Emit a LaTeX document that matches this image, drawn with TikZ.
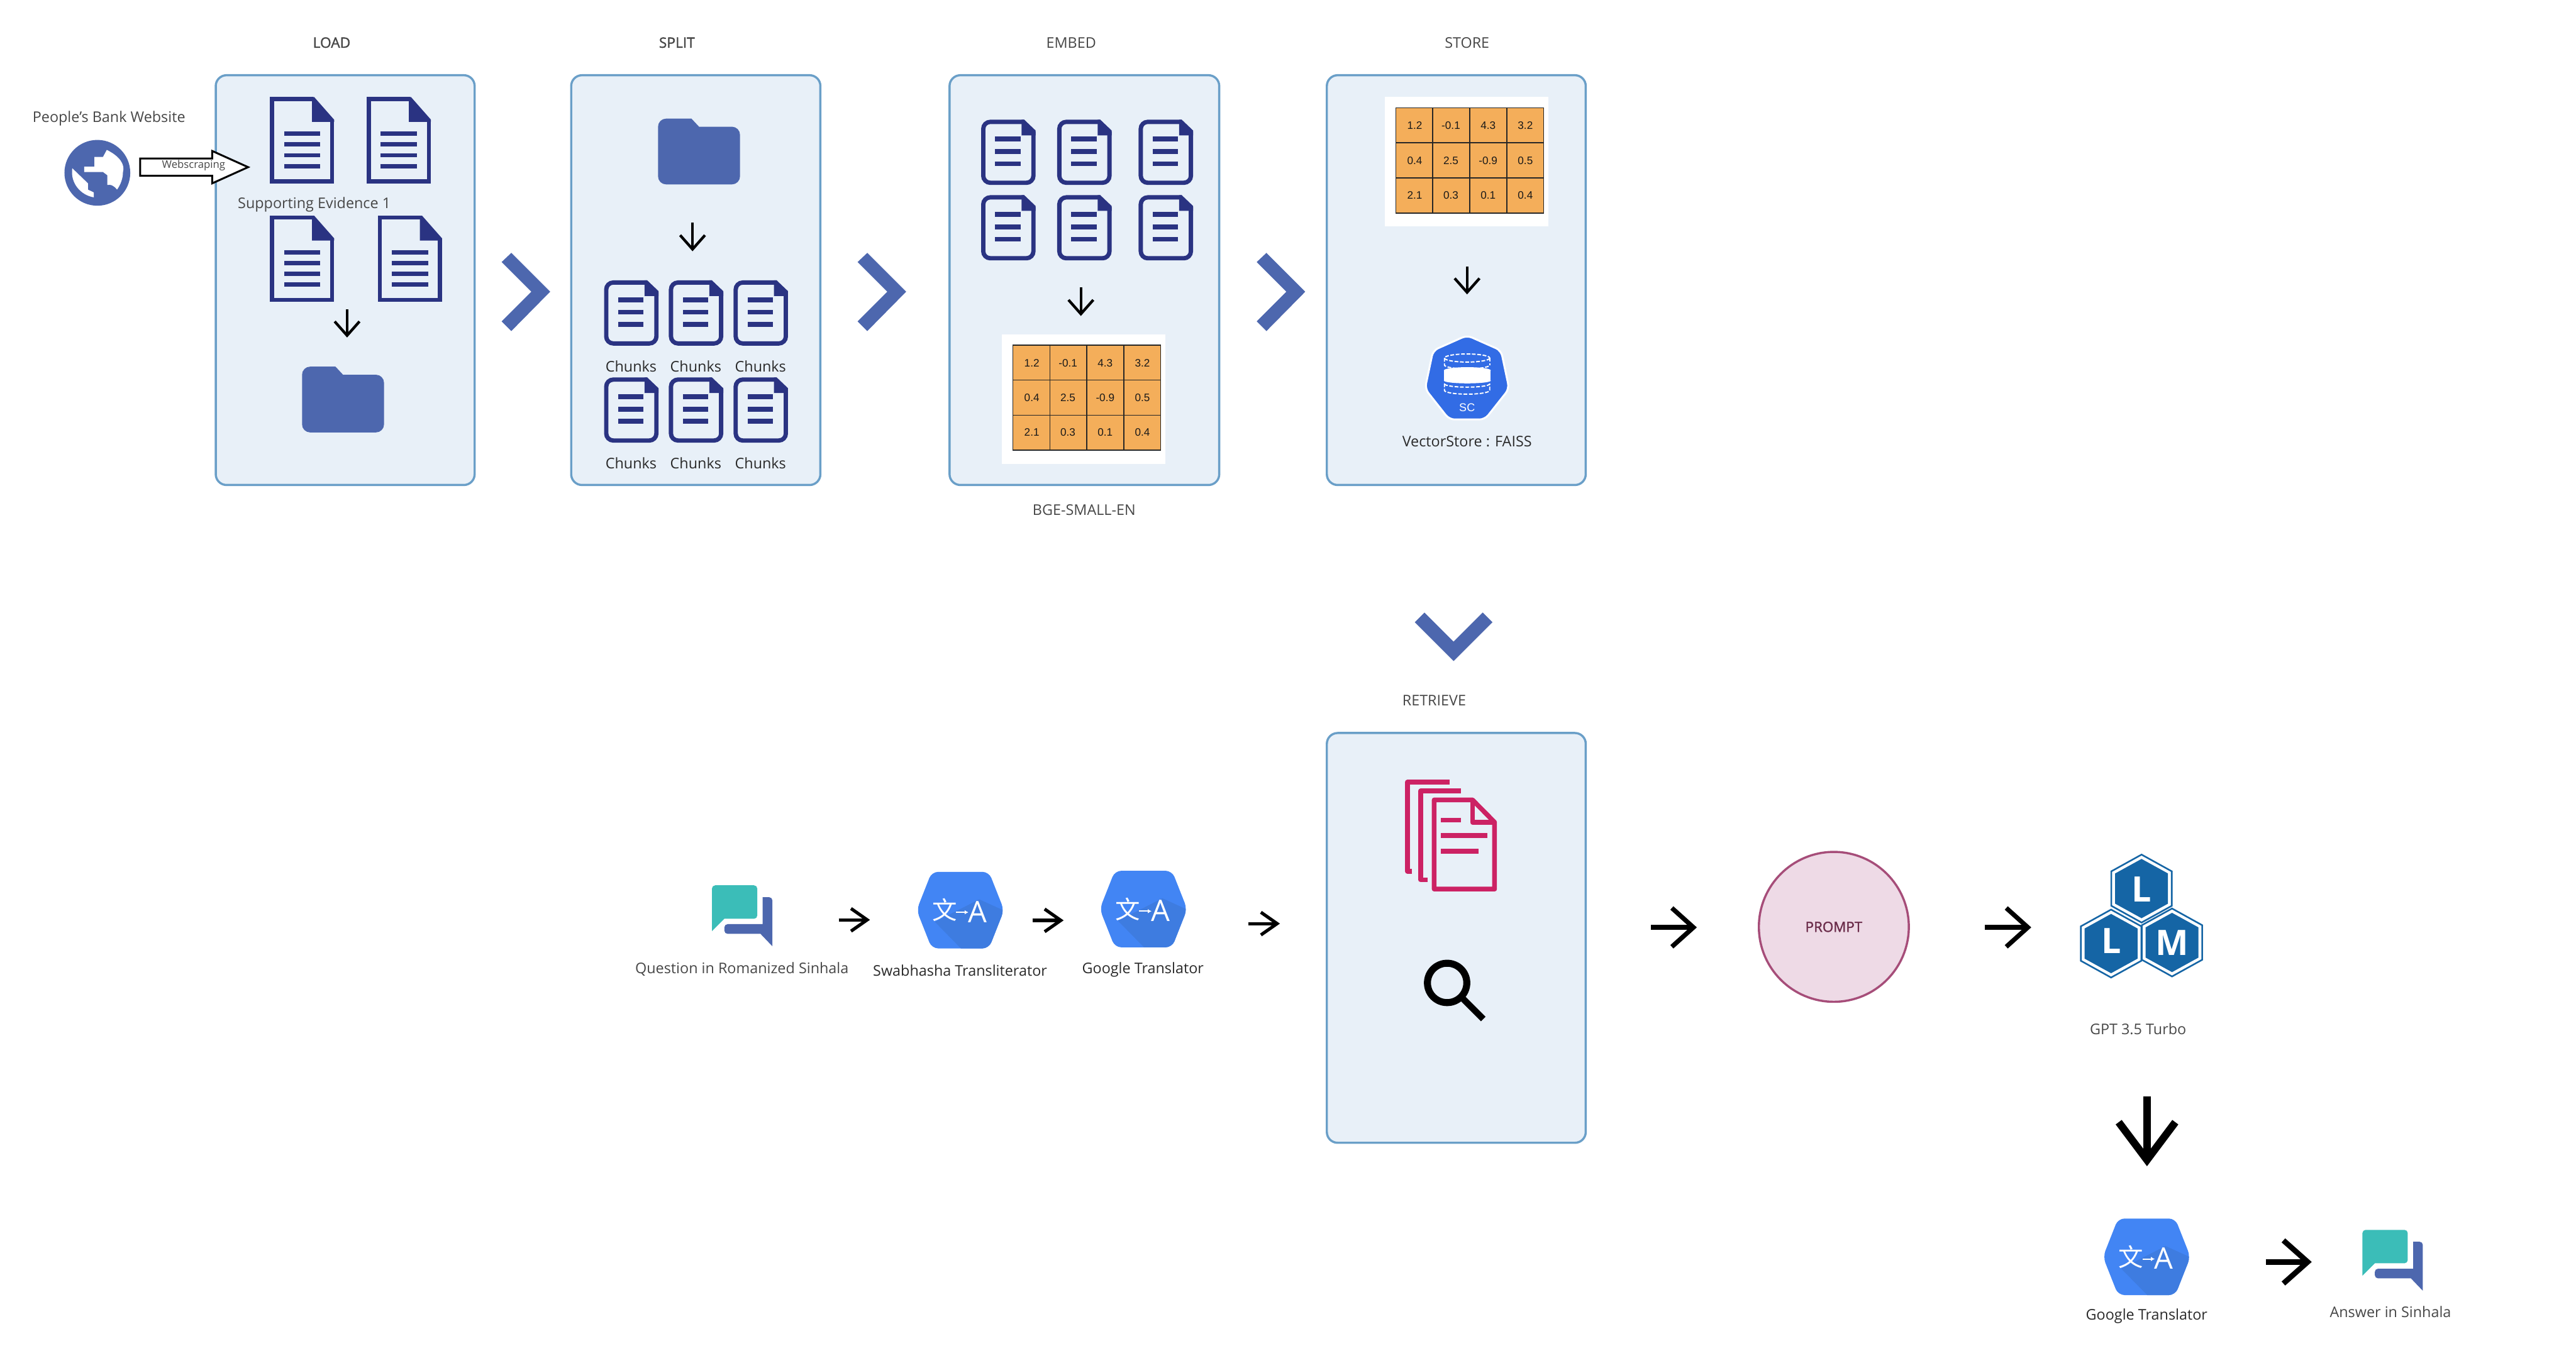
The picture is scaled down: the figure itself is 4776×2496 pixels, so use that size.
\documentclass[tikz,border=0pt]{standalone}
\usepackage{fontspec}
\setmainfont{Open Sans}
\newfontfamily\fauxbold[FakeBold=1.5]{Open Sans}
\newfontfamily\arialfont{Liberation Sans}
\newfontfamily\cjkfont{Noto Sans CJK SC}
\usetikzlibrary{arrows.meta}
\definecolor{panelfill}{HTML}{E8F0F8}
\definecolor{paneldraw}{HTML}{6A9FC8}
\definecolor{iconblue}{HTML}{4D67AE}
\definecolor{docblue}{HTML}{2A3382}
\definecolor{labelgrey}{HTML}{474747}
\definecolor{labeldark}{HTML}{2A2A2A}
\definecolor{cellorange}{HTML}{F4AE5A}
\definecolor{chatteal}{HTML}{3BBDB8}
\definecolor{transblue}{HTML}{4285F4}
\definecolor{transshade}{HTML}{3E7CE0}
\definecolor{scblue}{HTML}{326CE5}
\definecolor{llmblue}{HTML}{1565A5}
\definecolor{pinkdoc}{HTML}{CC2264}
\definecolor{promptfill}{HTML}{EEDAE6}
\definecolor{promptdraw}{HTML}{A64D79}
\definecolor{prompttext}{HTML}{6B2C4A}
\tikzset{
  panel/.style={draw=paneldraw,fill=panelfill,line width=0.8pt,rounded corners=4pt,outer sep=0pt,inner sep=0pt},
  lab/.style={font=\fontsize{5.45pt}{6pt}\selectfont,text=labelgrey,inner sep=0pt},
  labdark/.style={font=\fontsize{5.45pt}{6pt}\selectfont,text=labeldark,inner sep=0pt},
  labbold/.style={font=\fontsize{5.3pt}{6pt}\selectfont\fauxbold,text=labelgrey,inner sep=0pt},
  flowS/.style={draw=black,line width=1pt,-{Straight Barb[length=5.2pt,width=9.2pt,line width=1pt]}},
  flowM/.style={draw=black,line width=1.2pt,-{Straight Barb[length=6pt,width=8.4pt,line width=1.2pt]}},
  flowL/.style={draw=black,line width=1.7pt,-{Straight Barb[length=8pt,width=14.4pt,line width=1.7pt]}},
  flowX/.style={draw=black,line width=2pt,-{Straight Barb[length=9pt,width=16pt,line width=2pt]}},
  flowH/.style={draw=black,line width=2.8pt,-{Straight Barb[length=14pt,width=21pt,line width=2.8pt]}},
  chevron/.style={fill=iconblue,draw=none},
  docA/.pic={
    \draw[docblue,line width=1.5pt,miter limit=10] (80,3.75) -- (3.75,3.75) -- (3.75,156.25) -- (115.25,156.25) -- (115.25,44);
    \fill[docblue] (78,0) -- (82,0) -- (119,42) -- (119,46) -- (78,46) -- cycle;
    \foreach \yy in {68,88,108,128}{\fill[docblue] (26,\yy-4) rectangle (93,\yy+4);}
  },
  docB/.pic={
    \draw[docblue,line width=1.6pt,rounded corners=2.6pt] (80,4) -- (4,4) -- (4,117) -- (97,117) -- (97,22);
    \fill[docblue] (75,0) -- (80,0) -- (101,20) -- (101,29) -- (75,29) -- cycle;
    \foreach \yy in {36,59,81.6}{\fill[docblue] (26,\yy-4.5) rectangle (73,\yy+4.5);}
  },
  folderpic/.pic={
    \fill[iconblue] (0,60) [rounded corners=3pt] -- (0,0) [sharp corners] -- (62,0) -- (76,15) [rounded corners=3pt] -- (152,15) -- (152,122) -- (0,122) -- cycle;
  },
  chatpic/.pic={
    \fill[iconblue] (94,22) [rounded corners=1.2pt] -- (112,22) [sharp corners] -- (112,113) -- (90,90) [rounded corners=1.2pt] -- (23,90) -- (23,72) [sharp corners] -- (94,72) -- cycle;
    \fill[chatteal] (0,85) [rounded corners=1.2pt] -- (0,0) -- (84,0) -- (84,62) [sharp corners] -- (23,62) -- cycle;
  },
  transpic/.pic={
    \begin{scope}
      \clip[rounded corners=2.4pt] (-81,0) -- (-53,-71) -- (53,-71) -- (81,0) -- (53,71) -- (-53,71) -- cycle;
      \fill[transblue] (-90,-80) rectangle (90,80);
      \fill[transshade] (-47,22) -- (5,75) -- (90,75) -- (90,5) -- (35,-20) -- cycle;
    \end{scope}
    \node[inner sep=0pt,text=white,font=\fontsize{9.2pt}{10pt}\selectfont\cjkfont] at (-29,0) {文};
    \draw[white,line width=0.5pt,-{Latex[length=1.4pt,width=1.6pt]}] (-8,4) -- (15,4);
    \node[inner sep=0pt,text=white,font=\fontsize{11pt}{12pt}\selectfont] at (32,3) {A};
  },
  hexpic/.pic={
    \draw[llmblue,line width=0.6pt,fill=white] (0,-63) -- (56,-32) -- (56,32) -- (0,63) -- (-56,32) -- (-56,-32) -- cycle;
    \fill[llmblue] (0,-55) -- (49,-28) -- (49,28) -- (0,55) -- (-49,28) -- (-49,-28) -- cycle;
  },
  tablepic/.pic={
    \fill[cellorange] (0,0) rectangle (274,195);
    \draw[black!85,line width=0.4pt] (0,0) rectangle (274,195);
    \foreach \xx in {68.5,137,205.5}{\draw[black!85,line width=0.4pt] (\xx,0) -- (\xx,195);}
    \foreach \yy in {65,130}{\draw[black!85,line width=0.4pt] (0,\yy) -- (274,\yy);}
    \foreach \xx/\yy/\tt in {35/33/1.2,102/33/-0.1,171/33/4.3,240/33/3.2,35/98/0.4,102/98/2.5,171/98/-0.9,240/98/0.5,35/162/2.1,102/162/0.3,171/162/0.1,240/162/0.4}{
      \node[inner sep=0pt,font=\fontsize{4pt}{4.5pt}\selectfont\arialfont,text=black!90] at (\xx,\yy) {\tt};
    }
  },
}
\begin{document}
\begin{tikzpicture}[x=0.2pt,y=-0.2pt]
\useasboundingbox (0,0) rectangle (4776,2496);
\fill[white] (0,0) rectangle (4776,2496);

% panels
\node[panel,minimum width=96pt,minimum height=152pt] (load) at (640,519.5) {};
\node[panel,minimum width=92.4pt,minimum height=152pt] (split) at (1290,519.5) {};
\node[panel,minimum width=100pt,minimum height=152pt] (embed) at (2010.5,519.5) {};
\node[panel,minimum width=96pt,minimum height=152pt] (store) at (2700,519.5) {};
\node[panel,minimum width=96pt,minimum height=152pt] (retrieve) at (2700,1739.5) {};

% stage titles
\node[labbold] (tload) at (615,79) {LOAD};
\node[labbold] (tsplit) at (1255,79) {SPLIT};
\node[lab] (tembed) at (1986,79) {EMBED};
\node[lab] (tstore) at (2720,79) {STORE};
\node[lab] (tbge) at (2010,946) {BGE-SMALL-EN};
\node[lab] (tretrieve) at (2659,1299) {RETRIEVE};

% website globe
\node[lab] (tweb) at (202,220) {People’s Bank Website};
\fill[iconblue] (180.5,320.5) circle [radius=61];
\fill[white] (198,278) .. controls (222,290) and (232,305) .. (228,319) .. controls (228,330) and (224,342) .. (217,351.6) .. controls (210,343) and (205,342) .. (199,343) -- (199,325) -- (191,319) -- (156,319) -- (156,309) -- (175,309) -- (175,291) -- (191,291) -- cycle;
\fill[white] (134,312) -- (163,340) -- (163,351.6) -- (174,357) -- (174,366) .. controls (150,362) and (130,340) .. cycle;

% load docs
\pic at (500.5,180) {docA};
\pic at (680,180) {docA};
\pic at (500.5,400) {docA};
\pic at (700.5,400) {docA};
\node[lab,anchor=west] (tevid) at (440,380) {Supporting Evidence 1};
\pic at (560,680) {folderpic};
\coordinate (la) at (643.5,574);
\coordinate (lb) at (643.5,626);
\draw[flowS] (la) -- (lb);

% webscraping arrow
\draw[black,fill=white,line width=0.7pt,miter limit=10] (260,294) -- (393.5,294) -- (393.5,280) -- (460,310) -- (393.5,340) -- (393.5,326) -- (260,326) -- cycle;
\node[inner sep=0pt,text=labelgrey,font=\fontsize{3.9pt}{5pt}\selectfont] (tscrape) at (359,307) {Webscraping};

% chevrons
\fill[chevron] (930,486) -- (948,469) -- (1020,541) -- (948,614) -- (930,596) -- (985,541) -- cycle;
\fill[chevron] (1590,486) -- (1608,469) -- (1680,541) -- (1608,614) -- (1590,596) -- (1645,541) -- cycle;
\fill[chevron] (2330,486) -- (2348,469) -- (2420,541) -- (2348,614) -- (2330,596) -- (2385,541) -- cycle;
\fill[chevron] (2623,1154) -- (2641,1136) -- (2695,1190) -- (2749,1136) -- (2767,1154) -- (2695,1226) -- cycle;

% split
\pic at (1220,220) {folderpic};
\coordinate (sa) at (1284,413);
\coordinate (sb) at (1284,466);
\draw[flowS] (sa) -- (sb);
\foreach \xx in {1120,1240,1360}{
  \pic at (\xx,520) {docB};
  \pic at (\xx,700) {docB};
}
\foreach \xx/\nn in {1170/a,1290/b,1410/c}{
  \node[labdark] (chunk1\nn) at (\xx,679) {Chunks};
  \node[labdark] (chunk2\nn) at (\xx,859) {Chunks};
}

% embed
\foreach \xx/\yy in {1819/222,1960/222,2111/222,1819/362,1960/362,2111/362}{
  \pic at (\xx,\yy) {docB};
}
\coordinate (ea) at (2004,533);
\coordinate (eb) at (2004,586);
\draw[flowS] (ea) -- (eb);
\fill[white] (1858,620) rectangle (2161,861);
\pic at (1878,640) {tablepic};

% store
\fill[white] (2568,180) rectangle (2871,420);
\pic at (2588,200) {tablepic};
\coordinate (ta) at (2720,494);
\coordinate (tb) at (2720,546);
\draw[flowS] (ta) -- (tb);
\draw[white,fill=scblue,line width=0.7pt,rounded corners=2pt] (2720,622) -- (2783,650) -- (2798,721) -- (2753,778) -- (2687,778) -- (2642,721) -- (2657,650) -- cycle;
\begin{scope}[white,line width=0.45pt]
  \draw[dash pattern=on 1.4pt off 0.6pt] (2720,664) ellipse [x radius=42,y radius=7.5];
  \draw[dash pattern=on 1.4pt off 0.6pt] (2678,664) -- (2678,677) arc [start angle=180,end angle=360,x radius=42,y radius=-7];
  \draw[dash pattern=on 1.4pt off 0.6pt] (2762,664) -- (2762,677);
  \fill (2677,687) rectangle (2764,706);
  \fill (2720.5,687) ellipse [x radius=43.5,y radius=6];
  \fill (2720.5,706) ellipse [x radius=43.5,y radius=5];
  \draw[dash pattern=on 1.4pt off 0.6pt] (2678,711) -- (2678,724) arc [start angle=180,end angle=360,x radius=42,y radius=-7] -- (2762,711);
  \draw[dash pattern=on 1.4pt off 0.6pt] (2678,712) arc [start angle=180,end angle=360,x radius=42,y radius=-6];
\end{scope}
\node[inner sep=0pt,text=white,font=\fontsize{4.2pt}{5pt}\selectfont\arialfont] (tsc) at (2720,756) {SC};
\node[labdark] (tfaiss) at (2720,819) {VectorStore : FAISS};

% retrieve icons
\begin{scope}[pinkdoc]
  \draw[line width=1.75pt,line join=round] (2617.7,1616) -- (2609.6,1616) -- (2609.6,1450.7) -- (2688,1450.7);
  \draw[line width=1.75pt,line join=round] (2647,1632) -- (2634.2,1632) -- (2634.2,1467) -- (2708.6,1467);
  \draw[line width=1.75pt,line join=round] (2659,1483.5) -- (2730,1483.5) -- (2771,1525) -- (2771,1649) -- (2659,1649) -- cycle;
  \draw[line width=1.75pt,line join=round] (2730,1483.5) -- (2730,1525) -- (2771,1525);
  \fill (2671.8,1516.5) rectangle (2708.6,1525.5);
  \fill (2671.8,1545) rectangle (2758,1554);
  \fill (2671.8,1574) rectangle (2741.6,1583);
\end{scope}
\draw[black,line width=2.6pt] (2683,1823) circle [radius=36.5];
\draw[black,line width=2.4pt] (2713,1853) -- (2750,1890);

% bottom flow
\pic at (1320,1642) {chatpic};
\node[lab] (tquestion) at (1375.6,1797) {Question in Romanized Sinhala};
\pic at (1780.5,1688) {transpic};
\node[labdark] (tswab) at (1780,1800) {Swabhasha Transliterator};
\pic at (2120,1686) {transpic};
\node[labdark] (tgoog) at (2119,1798) {Google Translator};
\coordinate (qa) at (1555,1706);
\coordinate (qb) at (1613,1706);
\draw[flowM] (qa) -- (qb);
\coordinate (ha) at (1914,1707);
\coordinate (hb) at (1972,1707);
\draw[flowM] (ha) -- (hb);
\coordinate (ga) at (2314,1713);
\coordinate (gb) at (2373,1713);
\draw[flowM] (ga) -- (gb);

% prompt
\coordinate (ra) at (3061,1720);
\coordinate (rb) at (3146,1720);
\draw[flowL] (ra) -- (rb);
\node[circle,draw=promptdraw,fill=promptfill,line width=0.8pt,minimum size=55.6pt,inner sep=0pt,text=prompttext,font=\fontsize{5.2pt}{6pt}\selectfont\fauxbold] (prompt) at (3400,1719) {PROMPT};
\coordinate (pa) at (3680,1720);
\coordinate (pb) at (3766,1720);
\draw[flowL] (pa) -- (pb);

% llm
\pic at (3914,1750) {hexpic};
\pic at (4027,1748) {hexpic};
\pic at (3970.5,1648) {hexpic};
\foreach \nn/\xx/\yy/\tt in {l1/3970/1650/L,l2/3914/1745/L,l3/4027/1748/M}{
  \node[inner sep=0pt,text=white,font=\fontsize{13pt}{14pt}\selectfont\bfseries] (\nn) at (\xx,\yy) {\tt};
}
\node[lab] (tgpt) at (3964,1909) {GPT 3.5 Turbo};
\coordinate (da) at (3980.6,2033);
\coordinate (db) at (3980.6,2163);
\draw[flowH] (da) -- (db);

% last row
\pic at (3980,2331) {transpic};
\node[labdark] (tgoog2) at (3980,2441) {Google Translator};
\coordinate (xa) at (4201,2340.5);
\coordinate (xb) at (4286,2340.5);
\draw[flowX] (xa) -- (xb);
\pic at (4380,2281) {chatpic};
\node[lab] (tanswer) at (4432,2433) {Answer in Sinhala};
\end{tikzpicture}
\end{document}
